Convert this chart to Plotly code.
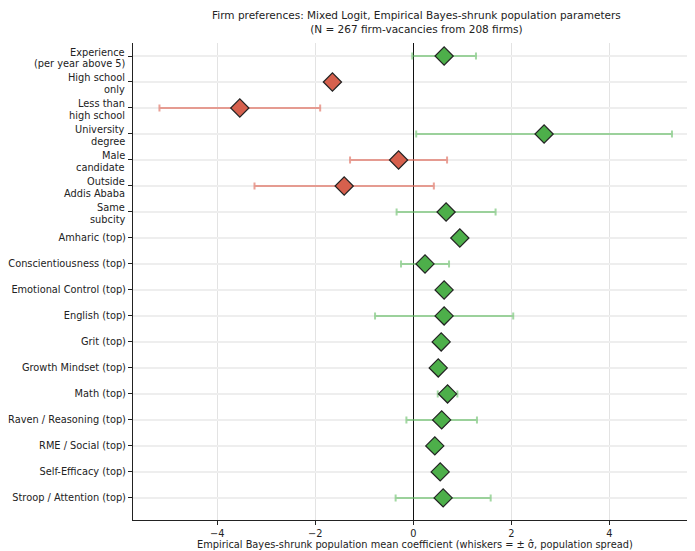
import plotly.graph_objects as go

labels = [
    "Experience<br>(per year above 5)", "High school<br>only", "Less than<br>high school",
    "University<br>degree", "Male<br>candidate", "Outside<br>Addis Ababa", "Same<br>subcity",
    "Amharic (top)", "Conscientiousness (top)", "Emotional Control (top)", "English (top)",
    "Grit (top)", "Growth Mindset (top)", "Math (top)", "Raven / Reasoning (top)",
    "RME / Social (top)", "Self-Efficacy (top)", "Stroop / Attention (top)",
]
means = [0.63, -1.65, -3.54, 2.67, -0.30, -1.41, 0.67, 0.95, 0.24, 0.63, 0.63,
         0.57, 0.51, 0.70, 0.58, 0.44, 0.55, 0.61]
sigmas = [0.65, 0.0, 1.64, 2.61, 0.99, 1.83, 1.01, 0.0, 0.49, 0.0, 1.41,
          0.0, 0.0, 0.20, 0.72, 0.0, 0.0, 0.97]
xticks = [-4, -2, 0, 2, 4]

# page body has an 8px margin: figure starts at (8, 8) in the window
W, H = 687, 543
L, T, R, B = 125, 35, 0, 31
FS = 9.8

pos_idx = [i for i, m in enumerate(means) if m >= 0]
neg_idx = [i for i, m in enumerate(means) if m < 0]

fig = go.Figure()
for idx, mcol, ecol in [(neg_idx, "#d6604d", "rgba(224,110,96,0.65)"),
                        (pos_idx, "#4daf4a", "rgba(100,190,100,0.6)")]:
    fig.add_trace(go.Scatter(
        x=[means[i] for i in idx], y=list(idx), mode="markers",
        marker=dict(symbol="diamond", size=14, color=mcol,
                    line=dict(color="#222222", width=1.2)),
        error_x=dict(type="data", array=[sigmas[i] for i in idx], visible=True,
                     color=ecol, thickness=2, width=3.5),
        showlegend=False,
    ))

pw = W - L - R
annotations = [
    dict(text="Firm preferences: Mixed Logit, Empirical Bayes-shrunk population parameters<br>(N = 267 firm-vacancies from 208 firms)",
         x=(416 - 8 - L) / pw, xref="x domain", xanchor="center",
         y=1, yref="paper", yanchor="bottom", yshift=6, showarrow=False,
         font=dict(size=10.5, color="#222222")),
    dict(text="Empirical Bayes-shrunk population mean coefficient (whiskers = ± σ̂, population spread)",
         x=(415 - 8 - L) / pw, xref="x domain", xanchor="center",
         y=0, yref="paper", yanchor="top", yshift=-17, showarrow=False,
         font=dict(size=FS, color="#222222")),
]
ticktext = []
for i, lab in enumerate(labels):
    parts = lab.split("<br>")
    if len(parts) == 1:
        ticktext.append(lab)
    else:
        ticktext.append("")
        for part, ys in zip(parts, [4.0, -7.2]):
            annotations.append(dict(text=part, x=0, xref="x domain", xanchor="right",
                                    xshift=-6, y=i, yref="y", yanchor="middle",
                                    yshift=ys, showarrow=False,
                                    font=dict(size=FS, color="#222222")))

fig.update_layout(
    width=W, height=H,
    margin=dict(l=L, r=R, t=T, b=B, autoexpand=False),
    plot_bgcolor="white", paper_bgcolor="white",
    font=dict(family="DejaVu Sans", size=FS, color="#222222"),
    annotations=annotations,
)

fig.update_xaxes(
    range=[-5.72, 5.75], tickvals=xticks, ticktext=[f"{v}".replace("-", "\u2212") for v in xticks],
    showgrid=True, gridcolor="#e3e3e3", gridwidth=1,
    zeroline=True, zerolinecolor="#111111", zerolinewidth=1.3,
    showline=True, linecolor="#222222", linewidth=1.2,
    ticks="outside", ticklen=4, tickcolor="#222222", automargin=False,
)
fig.update_yaxes(
    range=[17.85, -0.5], tickvals=list(range(len(labels))), ticktext=ticktext,
    showgrid=True, gridcolor="#eeeeee", gridwidth=1.5, zeroline=False,
    showline=True, linecolor="#222222", linewidth=1.2,
    ticks="outside", ticklen=4, tickcolor="#222222", automargin=False,
)

fig.write_html("out.html")
